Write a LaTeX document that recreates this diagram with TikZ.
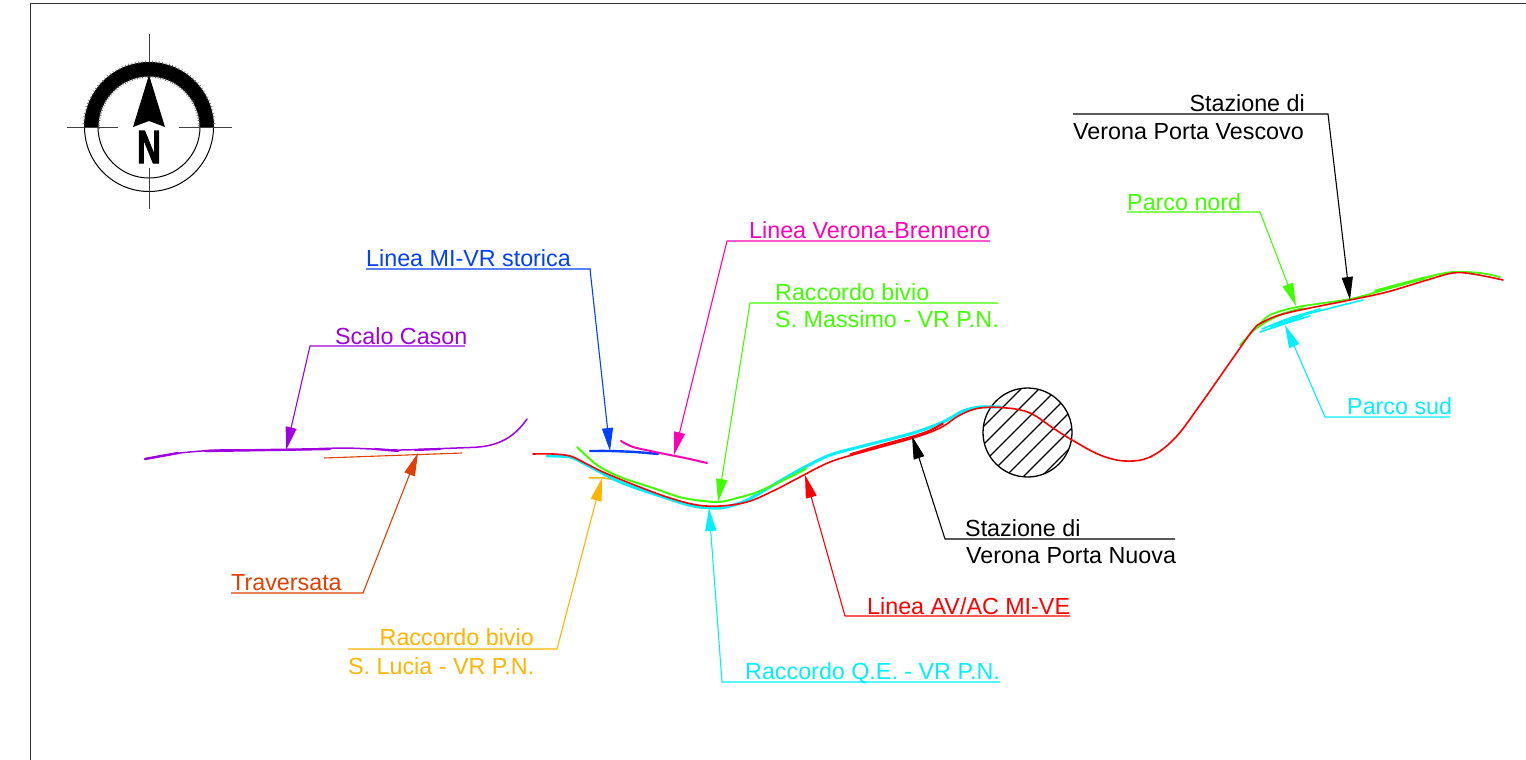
\documentclass[tikz,border=0pt]{standalone}
\usepackage{fontspec}
\setmainfont{Liberation Sans}
\newfontfamily\northfont[BoldFeatures={FakeBold=2.5}]{Liberation Sans}
\usetikzlibrary{arrows.meta}
\definecolor{cpurple}{HTML}{A000E0}
\definecolor{cblue}{HTML}{0040FF}
\definecolor{cmagenta}{HTML}{FF00B4}
\definecolor{cgreen}{HTML}{40FF00}
\definecolor{ccyan}{HTML}{00F0FF}
\definecolor{cred}{HTML}{FF0000}
\definecolor{corange}{HTML}{FFB400}
\definecolor{cbrick}{HTML}{E04000}
\tikzset{
  lbl/.style={inner sep=0pt,anchor=base west,font=\fontsize{23.3}{26}\selectfont},
  lblr/.style={inner sep=0pt,anchor=base east,font=\fontsize{23.3}{26}\selectfont},
  leader/.style={line width=1.1pt,-{Triangle[length=23pt,width=11pt]}},
  track/.style={line width=1.5pt,line cap=round,line join=round},
  thick track/.style={line width=2.4pt,line cap=round,line join=round},
  fine track/.style={line width=1.2pt,line cap=round},
  crossh/.style={line width=1pt,black!75},
}
\begin{document}
\begin{tikzpicture}[x=1pt,y=-1pt]
\useasboundingbox (0,0) rectangle (1526,760);
\fill[white] (0,0) rectangle (1526,760);
\draw[line width=1pt,black!80] (30,760) -- (30,4) -- (1526,4);

% compass
\coordinate (cc) at (149,127);
\draw[line width=1pt] (cc) circle[radius=64.5];
\draw[line width=1pt] (cc) circle[radius=51];
\fill[black] (84.5,127) arc[start angle=180,end angle=360,radius=64.5] -- (200,127) arc[start angle=360,end angle=180,radius=51] -- cycle;
\foreach \a in {0,3,...,180}{
  \draw[line width=0.6pt,black!65] ({149+64*cos(\a)},{127-64*sin(\a)}) -- ({149+66.5*cos(\a)},{127-66.5*sin(\a)});
  \draw[line width=0.6pt,black!65] ({149+51.5*cos(\a+1.5)},{127-51.5*sin(\a+1.5)}) -- ({149+49*cos(\a+1.5)},{127-49*sin(\a+1.5)});
}
\draw[crossh] (149,34) -- (149,63);
\draw[crossh] (149,168) -- (149,209);
\draw[crossh] (67,127) -- (118,127);
\draw[crossh] (179,127) -- (232,127);
\fill[black] (149,75) -- (165,127) -- (149,121) -- (133,127) -- cycle;
\node[inner sep=0pt] (north) at (149,147) {\resizebox{24pt}{32pt}{\northfont\bfseries N}};

% station circle
\coordinate (st) at (1027.5,432.5);
\begin{scope}
\clip (st) circle[radius=44.5];
\foreach \d in {-50,-32,...,60}{
  \draw[line width=1.1pt] ({1027.5+\d-60},{432.5+60}) -- ({1027.5+\d+60},{432.5-60});
}
\end{scope}
\draw[line width=1.3pt] (st) circle[radius=44.5];

% Scalo Cason
\draw[track,cpurple] plot[smooth,tension=0.4] coordinates {(145,459) (180,453) (220,450) (287,450) (343,448) (397,450) (430,449) (470,447.5)} .. controls (500,447) and (515,436) .. (527,419);
\draw[line width=2.4pt,cpurple,line cap=round] (145,459) -- (178,453);
\draw[line width=2.4pt,cpurple,line cap=round] (205,451) -- (330,449);
\draw[line width=2.2pt,cpurple,line cap=round] (375,449) -- (398,451);
\draw[line width=2.2pt,cpurple,line cap=round] (415,450) -- (440,449);
% Traversata
\draw[line width=1.1pt,cbrick] (324,458) -- (462,453);

% storica, Brennero
\draw[thick track,cblue] plot[smooth,tension=0.5] coordinates {(590,451) (610,451) (635,452) (658,454)};
\draw[line width=2pt,cmagenta,line cap=round] plot[smooth,tension=0.5] coordinates {(621,441) (633,447) (660,453) (685,458) (707,463)};
% orange
\draw[track,corange] plot[smooth,tension=0.5] coordinates {(589,478) (603,478) (620,481)};

% cyan, green, red main
\draw[line width=3pt,ccyan,line cap=round] plot[smooth,tension=0.5] coordinates {(547,456) (570,457) (587,465) (620,482) (660,496) (693,506) (720,508) (740,503) (753,497) (780,481) (803,468) (830,455) (863,446) (913,433) (943,422) (963,411) (980,407) (1000,407)};
\draw[line width=2pt,cgreen,line cap=round] plot[smooth,tension=0.5] coordinates {(577,447) (597,465) (620,477) (653,488) (683,498) (717,502) (737,498) (760,491) (800,472) (806,468)};
% parco sud
\foreach \p in {{(1260,332) (1287,323) (1310,316)},{(1262,329) (1287,319) (1320,309)},{(1270,327) (1300,316) (1363,300)},{(1275,326) (1290,321) (1305,315)}}{
  \draw[line width=1.6pt,ccyan,line cap=round] plot[smooth,tension=0.5] coordinates \p;
}
% parco nord
\foreach \p in {{(1240,345) (1257,327) (1270,315) (1297,307) (1350,299) (1387,289) (1427,277) (1453,272) (1480,273) (1500,277)},{(1258,326) (1280,315) (1303,308)},{(1250,333) (1272,318) (1295,310)},{(1375,291) (1400,284) (1433,276)}}{
  \draw[line width=1.8pt,cgreen,line cap=round] plot[smooth,tension=0.5] coordinates \p;
}
\draw[line width=3pt,cgreen,line cap=round] (1376,291) -- (1425,278);
% stazione fasci
\foreach \dy in {-2,-1}{
  \draw[fine track,cred] plot[smooth,tension=0.5] coordinates {(850,{456+\dy}) (880,{447+\dy}) (913,{438+\dy}) (930,{432+\dy}) (943,{425+\dy})};
}
% red main
\draw[track,line width=1.6pt,cred] plot[smooth,tension=0.6] coordinates {(533,454) (553,454) (570,456) (583,462) (603,472) (637,486) (670,498) (697,505) (720,506) (747,502) (773,491) (800,477) (830,462) (863,452) (913,438) (940,428) (960,415) (980,408) (1007,408) (1030,413) (1053,428) (1072,440) (1100,455) (1125,461) (1150,457) (1175,438) (1200,405) (1233,358) (1253,330) (1263,322) (1287,313) (1350,300) (1387,292) (1427,280) (1453,273) (1473,274) (1503,280)};

% labels and leaders
\node[lbl,text=cpurple] (scalo) at (335,344) {Scalo Cason};
\coordinate (scaloA) at (465,346); \coordinate (scaloB) at (310,346); \coordinate (scaloT) at (286,450);
\draw[leader,cpurple] (scaloA) -- (scaloB) -- (scaloT);

\node[lbl,text=cblue] (storica) at (366,266) {Linea MI-VR storica};
\coordinate (storicaA) at (366,269); \coordinate (storicaB) at (590,269); \coordinate (storicaT) at (610,451);
\draw[leader,cblue] (storicaA) -- (storicaB) -- (storicaT);

\node[lbl,text=cmagenta] (brennero) at (749,238) {Linea Verona-Brennero};
\coordinate (brenneroA) at (990,241); \coordinate (brenneroB) at (727,241); \coordinate (brenneroT) at (674,455);
\draw[leader,cmagenta] (brenneroA) -- (brenneroB) -- (brenneroT);

\node[lbl,text=cgreen] (massimoa) at (775,300) {Raccordo bivio};
\node[lbl,text=cgreen] (massimob) at (775,327) {S. Massimo - VR P.N.};
\coordinate (massimoA) at (998,303); \coordinate (massimoB) at (750,303); \coordinate (massimoT) at (718,502);
\draw[leader,cgreen] (massimoA) -- (massimoB) -- (massimoT);

\node[lblr,text=black] (vescovoa) at (1305,111) {Stazione di};
\node[lbl,text=black] (vescovob) at (1073,139) {Verona Porta Vescovo};
\coordinate (vescovoA) at (1073,114); \coordinate (vescovoB) at (1328,114); \coordinate (vescovoT) at (1350,300);
\draw[leader,black] (vescovoA) -- (vescovoB) -- (vescovoT);

\node[lbl,text=cgreen] (nord) at (1127,210) {Parco nord};
\coordinate (nordA) at (1127,212); \coordinate (nordB) at (1260,212); \coordinate (nordT) at (1296,306);
\draw[leader,cgreen] (nordA) -- (nordB) -- (nordT);

\node[lbl,text=ccyan] (sud) at (1347,414) {Parco sud};
\coordinate (sudA) at (1450,417); \coordinate (sudB) at (1325,417); \coordinate (sudT) at (1285,325);
\draw[leader,ccyan] (sudA) -- (sudB) -- (sudT);

\node[lbl,text=black] (nuovaa) at (965,536) {Stazione di};
\node[lbl,text=black] (nuovab) at (966,563) {Verona Porta Nuova};
\coordinate (nuovaA) at (1175,539); \coordinate (nuovaB) at (945,539); \coordinate (nuovaT) at (912,436);
\draw[leader,black] (nuovaA) -- (nuovaB) -- (nuovaT);

\node[lbl,text=cred] (av) at (867,614) {Linea AV/AC MI-VE};
\coordinate (avA) at (1070,616); \coordinate (avB) at (845,616); \coordinate (avT) at (805,475);
\draw[leader,cred] (avA) -- (avB) -- (avT);

\node[lbl,text=ccyan] (qe) at (745,679) {Raccordo Q.E. - VR P.N.};
\coordinate (qeA) at (1000,682); \coordinate (qeB) at (722,682); \coordinate (qeT) at (709,508);
\draw[leader,ccyan] (qeA) -- (qeB) -- (qeT);

\node[lblr,text=corange] (luciaa) at (534,645) {Raccordo bivio};
\node[lbl,text=corange] (luciab) at (348,674) {S. Lucia - VR P.N.};
\coordinate (luciaA) at (348,649); \coordinate (luciaB) at (557,649); \coordinate (luciaT) at (602,478);
\draw[leader,corange] (luciaA) -- (luciaB) -- (luciaT);

\node[lbl,text=cbrick] (trav) at (231,590) {Traversata};
\coordinate (travA) at (231,593); \coordinate (travB) at (363,593); \coordinate (travT) at (418,453);
\draw[leader,cbrick] (travA) -- (travB) -- (travT);
\end{tikzpicture}
\end{document}
